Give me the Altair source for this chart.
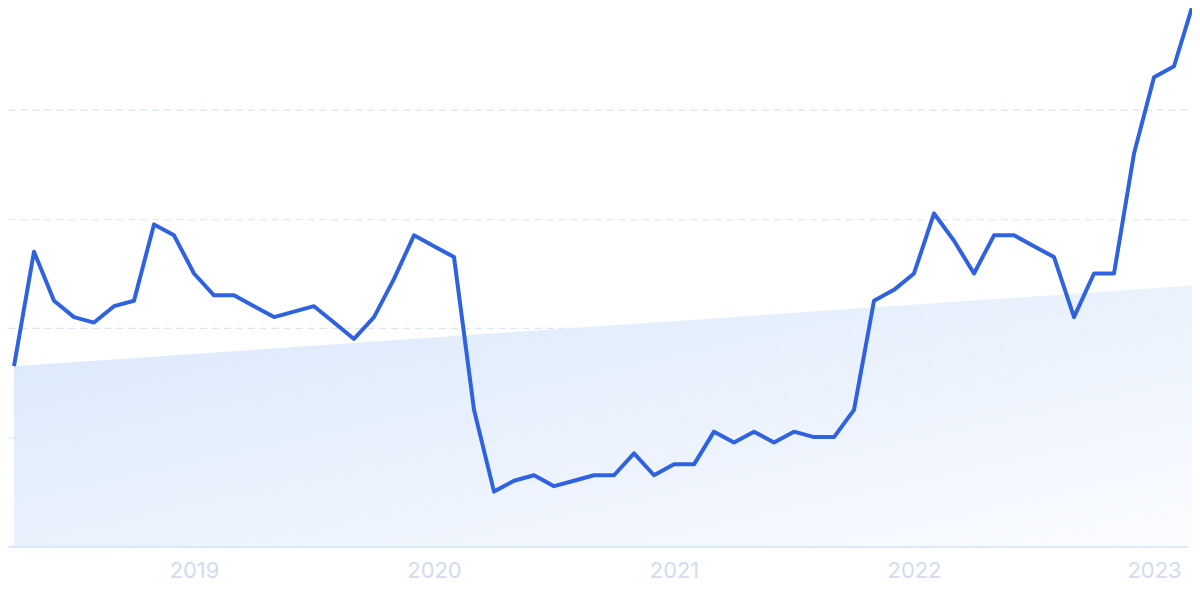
import altair as alt
import pandas as pd

# monthly values, Apr 2018 .. Mar 2023 (index 0..59)
values = [33, 54, 45, 42, 41, 44, 45, 59, 57, 50,
          46, 46, 44, 42, 43, 44, 41, 38, 42, 49,
          57, 55, 53, 25, 10, 12, 13, 11, 12, 13,
          13, 17, 13, 15, 15, 21, 19, 21, 19, 21,
          20, 20, 25, 45, 47, 50, 61, 56, 50, 57,
          57, 55, 53, 42, 50, 50, 72, 86, 88, 100]
months = list(range(len(values)))

# trend (area) end values
trend_idx = [0, 59]
trend_vals = [33, 47.8]

year_ticks = [9, 21, 33, 45, 57]  # January of 2019..2023

line_df = pd.DataFrame({"m": months, "v": values})
trend_df = pd.DataFrame({"m": trend_idx, "v": trend_vals})

xscale = alt.Scale(domain=[-0.3, 58.7], nice=False, zero=False)
yscale = alt.Scale(domain=[0, 98.5], nice=False)

xaxis = alt.Axis(
    values=year_ticks,
    labelExpr="'' + (2018 + (datum.value + 3) / 12)",
    title=None, grid=False, ticks=False, tickSize=0,
    domain=True, domainColor="#d3e4fb", domainWidth=2,
    labelColor="#d0dbf5", labelFont="Inter", labelFontSize=22,
    labelPadding=14, labelFlush=False, labelAlign="center",
)
yaxis = alt.Axis(
    values=[0, 20, 40, 60, 80, 100], title=None, labels=False, ticks=False,
    domain=False, grid=True, gridColor="#d9e4f7", gridDash=[7, 5], gridWidth=1.2,
)

grad = alt.Gradient(
    gradient="linear",
    stops=[alt.GradientStop(color="#d8e7fb", offset=0),
           alt.GradientStop(color="#fbfcff", offset=1)],
    x1=0, y1=0, x2=1, y2=1,
)

area = alt.Chart(trend_df).mark_area(color=grad, opacity=1).encode(
    x=alt.X("m:Q", scale=xscale, axis=xaxis),
    y=alt.Y("v:Q", scale=yscale, axis=yaxis),
)

line = alt.Chart(line_df).mark_line(color="#2f62e1", strokeWidth=4, strokeJoin="round").encode(
    x=alt.X("m:Q", scale=xscale),
    y=alt.Y("v:Q", scale=yscale),
)

chart = alt.layer(area, line).properties(
    width=1184, height=539,
    padding={"top": 0, "left": 0, "right": 4, "bottom": 40},
    autosize=alt.AutoSizeParams(type="none"),
    background="white",
).configure_view(stroke=None)

chart.save("out.html", embed_options={"renderer": "svg", "actions": False})
